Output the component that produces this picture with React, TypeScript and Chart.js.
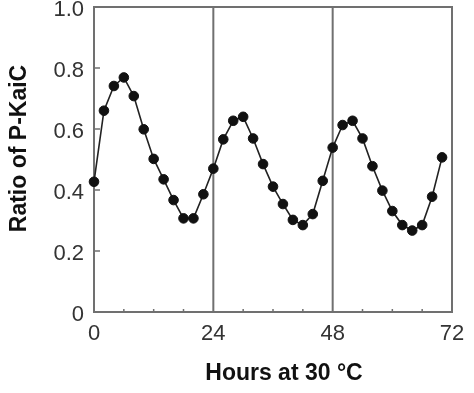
import React, { useEffect, useRef } from "react";
import { Chart, registerables } from "chart.js";

Chart.register(...registerables);

// ---- data ----
const hours = [0, 2, 4, 6, 8, 10, 12, 14, 16, 18, 20, 22, 24, 26, 28, 30, 32, 34, 36, 38, 40, 42, 44, 46, 48, 50, 52, 54, 56, 58, 60, 62, 64, 66, 68, 70];
const ratio = [0.427, 0.66, 0.741, 0.769, 0.708, 0.599, 0.502, 0.435, 0.367, 0.307, 0.307, 0.386, 0.47, 0.566, 0.627, 0.64, 0.569, 0.485, 0.411, 0.354, 0.302, 0.285, 0.321, 0.43, 0.539, 0.613, 0.627, 0.569, 0.478, 0.398, 0.331, 0.285, 0.267, 0.285, 0.378, 0.507];
const xLabelHours = [0, 24, 48, 72];
const dividerHours = [24, 48];
const xTitle = "Hours at 30 °C";
const yTitle = "Ratio of P-KaiC";

const FONT = "'Liberation Sans', Arial, Helvetica, sans-serif";
const AXIS_COLOR = "#707070";

export default function App() {
  const ref = useRef<HTMLCanvasElement>(null);

  useEffect(() => {
    if (!ref.current) return;

    const decor = {
      id: "decor",
      beforeDatasetsDraw(chart: any) {
        const { ctx, chartArea: a, scales } = chart;
        const xs = scales.x;
        const ys = scales.y;
        ctx.save();
        ctx.strokeStyle = AXIS_COLOR;
        ctx.lineWidth = 2;
        ctx.strokeRect(a.left, a.top, a.right - a.left, a.bottom - a.top);
        ctx.beginPath();
        for (const h of dividerHours) {
          const px = xs.getPixelForValue(h);
          ctx.moveTo(px, a.top);
          ctx.lineTo(px, a.bottom);
        }
        ctx.stroke();
        // inward minor ticks
        ctx.lineWidth = 1.5;
        ctx.beginPath();
        for (const t of xs.ticks) {
          if (xLabelHours.includes(t.value)) continue;
          const px = xs.getPixelForValue(t.value);
          ctx.moveTo(px, a.bottom);
          ctx.lineTo(px, a.bottom - 3);
        }
        for (const t of ys.ticks) {
          if (t.value <= 0.0001 || t.value >= 0.9999) continue;
          const py = ys.getPixelForValue(t.value);
          ctx.moveTo(a.left, py);
          ctx.lineTo(a.left + 6, py);
        }
        ctx.stroke();
        ctx.restore();
      },
      afterDraw(chart: any) {
        const { ctx, chartArea: a } = chart;
        ctx.save();
        ctx.fillStyle = "#111";
        ctx.font = `bold 23px ${FONT}`;
        ctx.textAlign = "center";
        ctx.textBaseline = "middle";
        ctx.fillText(xTitle, (a.left + a.right) / 2 + 11, a.bottom + 62);
        ctx.translate(a.left - 74, (a.top + a.bottom) / 2 - 11);
        ctx.rotate(-Math.PI / 2);
        ctx.fillText(yTitle, 0, 0);
        ctx.restore();
      },
    };

    const chart = new Chart(ref.current, {
      type: "line",
      data: {
        datasets: [
          {
            data: hours.map((h, i) => ({ x: h, y: ratio[i] })),
            borderColor: "#222",
            borderWidth: 1.6,
            pointRadius: 4.8,
            pointBackgroundColor: "#111",
            pointBorderColor: "#111",
            pointBorderWidth: 1,
            tension: 0,
            clip: false as any,
          },
        ],
      },
      options: {
        responsive: false,
        animation: false,
        devicePixelRatio: 1,
        layout: { padding: { left: 0, top: 7, right: 22, bottom: 0 } },
        plugins: { legend: { display: false }, tooltip: { enabled: false } },
        scales: {
          x: {
            type: "linear",
            min: 0,
            max: 72,
            grid: { display: false, drawTicks: false },
            border: { display: false },
            ticks: {
              stepSize: 6,
              autoSkip: false,
              maxRotation: 0,
              padding: 9,
              color: "#333",
              font: { family: FONT, size: 22 },
              callback: (v: any) => (xLabelHours.includes(Number(v)) ? String(v) : ""),
            },
            afterFit: (s: any) => {
              s.height = 81;
              s.paddingLeft = 0;
              s.paddingRight = 0;
            },
          },
          y: {
            min: 0,
            max: 1,
            grid: { display: false, drawTicks: false },
            border: { display: false },
            ticks: {
              stepSize: 0.2,
              padding: 10,
              labelOffset: 3,
              color: "#333",
              font: { family: FONT, size: 22 },
              callback: (v: any) => (Number(v) === 0 ? "0" : Number(v).toFixed(1)),
            },
            afterFit: (s: any) => {
              s.width = 94;
              s.paddingTop = 0;
              s.paddingBottom = 0;
            },
          },
        },
      },
      plugins: [decor],
    });

    return () => chart.destroy();
  }, []);

  return (
    <div style={{ position: "absolute", left: 0, top: 0, width: 474, height: 393, background: "#fff" }}>
      <canvas ref={ref} width={474} height={393} style={{ display: "block" }} />
    </div>
  );
}
